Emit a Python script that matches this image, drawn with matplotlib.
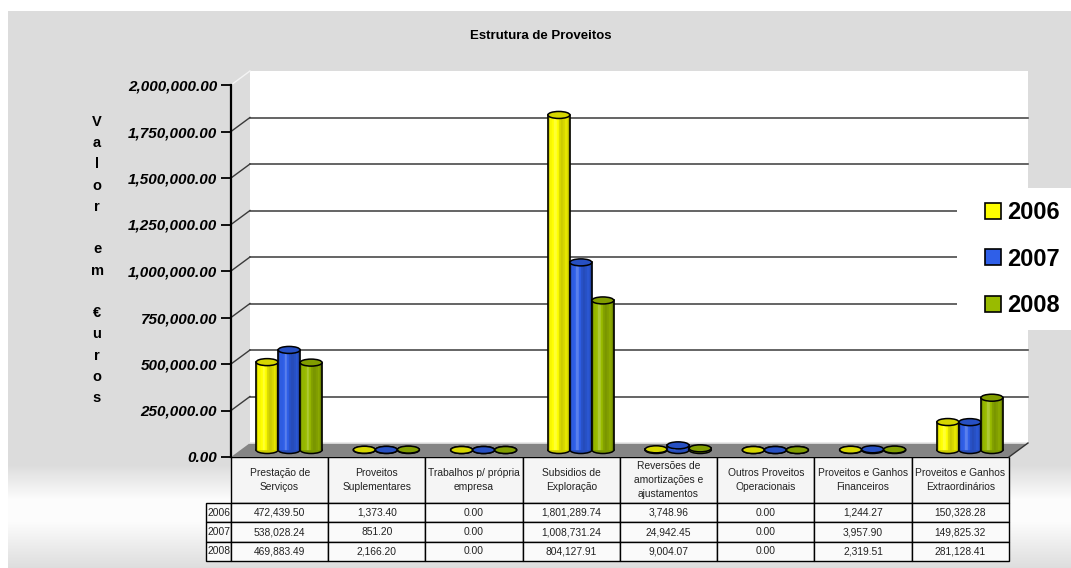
import numpy as np
import matplotlib
matplotlib.use('Agg')
import matplotlib.pyplot as plt
from matplotlib.patches import Rectangle, Ellipse, Polygon, Patch
from matplotlib.colors import to_rgb

plt.rcParams['font.family'] = ['Liberation Sans', 'DejaVu Sans']

# dados
categorias = ['Prestação de\nServiços', 'Proveitos\nSuplementares',
              'Trabalhos p/ própria\nempresa', 'Subsidios de\nExploração',
              'Reversões de\namortizações e\najustamentos',
              'Outros Proveitos\nOperacionais', 'Proveitos e Ganhos\nFinanceiros',
              'Proveitos e Ganhos\nExtraordinários']
anos = ['2006', '2007', '2008']
v2006 = [472439.50, 1373.40, 0.00, 1801289.74, 3748.96, 0.00, 1244.27, 150328.28]
v2007 = [538028.24, 851.20, 0.00, 1008731.24, 24942.45, 0.00, 3957.90, 149825.32]
v2008 = [469883.49, 2166.20, 0.00, 804127.91, 9004.07, 0.00, 2319.51, 281128.41]
series = [v2006, v2007, v2008]
cores = ['#FFFF00', '#2F5FE8', '#99BB00']

W, H = 1071, 568
fig = plt.figure(figsize=(W / 100, H / 100), dpi=100, facecolor='white')

# fundo cinzento com degradê em baixo
bg = fig.add_axes([8 / W, 0, 1 - 8 / W, (H - 11) / H])
bg.set_axis_off()
yy = np.arange(11, H + 1)
tons = np.interp(yy, [11, 465, 500, 522, 568], [0.863, 0.863, 0.99, 0.99, 0.87])
bg.imshow(np.repeat(tons[:, None], 2, axis=1)[:, :, None].repeat(3, axis=2),
          aspect='auto', extent=[0, 1, 0, 1], interpolation='bilinear')

# eixo principal (plano da frente)
ax_l, ax_r, ax_t, ax_b = 231, 1009, 85, 457
ax = fig.add_axes([ax_l / W, (H - ax_b) / H, (ax_r - ax_l) / W, (ax_b - ax_t) / H])
ax.set_xlim(-0.5, 7.5)
ax.set_ylim(0, 2000000)
ax.patch.set_visible(False)
for s in ['top', 'right', 'bottom']:
    ax.spines[s].set_visible(False)
ax.spines['left'].set_linewidth(1.6)
ax.set_xticks([])
ax.set_yticks(np.arange(0, 2000001, 250000))
ax.set_yticklabels([f'{v:,.2f}' for v in np.arange(0, 2000001, 250000)])
ax.tick_params(axis='y', length=7, width=1.3, pad=3, labelsize=11)
for lab in ax.get_yticklabels():
    lab.set_fontweight('bold')
    lab.set_fontstyle('italic')

px_x = (ax_r - ax_l) / 8.0
px_y = (ax_b - ax_t) / 2000000.0
dx = 19 / px_x           # profundidade em unidades de dados
dy = 14 / px_y

# parede do fundo
ax.add_patch(Rectangle((-0.5 + dx, dy), 8, 2000000, facecolor='white',
                       edgecolor='none', zorder=0.5, clip_on=False))
for v in np.arange(250000, 2000000, 250000):
    ax.plot([-0.5 + dx, 7.5 + dx], [v + dy, v + dy], color='#3a3a3a', lw=1.1,
            zorder=1, clip_on=False)
    ax.plot([-0.5, -0.5 + dx], [v, v + dy], color='#3a3a3a', lw=1.0,
            zorder=1, clip_on=False)
ax.plot([-0.5, -0.5 + dx], [2000000, 2000000 + dy], color='#f4f4f4', lw=1.0,
        zorder=1, clip_on=False)

# chão
ax.add_patch(Polygon([(-0.5, 0), (7.5, 0), (7.5 + dx, dy), (-0.5 + dx, dy)],
                     closed=True, facecolor='#858585', edgecolor='none',
                     zorder=1.5, clip_on=False))
ax.plot([-0.5 + dx, 7.5 + dx], [dy, dy], color='#e6e6e6', lw=1.2, zorder=1.6, clip_on=False)
ax.plot([7.5, 7.5 + dx], [0, dy], color='#333333', lw=1.0, zorder=1.6, clip_on=False)


def tom(cor, f):
    c = np.array(to_rgb(cor))
    if f <= 1:
        return tuple(c * f)
    return tuple(c + (1 - c) * (f - 1))


larg = 22 / px_x
eh = 7 / px_y
perfil = [0.8, 0.97, 1.0, 1.2, 1.0, 0.86, 0.8, 0.84, 0.9, 0.72]


def cilindro(x, valor, cor, z):
    base = dy / 2
    n = len(perfil)
    sw = larg / n
    xs = x - larg / 2 + sw * (np.arange(n) + 0.5)
    cols = [tom(cor, f) for f in perfil]
    ax.add_patch(Ellipse((x, base), larg, eh, facecolor=tom(cor, 0.8),
                         edgecolor='black', lw=1.1, zorder=z, clip_on=False))
    if valor > 0:
        ax.bar(xs, valor, width=sw, bottom=base, color=cols, edgecolor=cols,
               linewidth=0.3, zorder=z + 0.01, clip_on=False)
        for xe in (x - larg / 2, x + larg / 2):
            ax.plot([xe, xe], [base, base + valor], color='black', lw=1.2,
                    zorder=z + 0.02, clip_on=False)
    ax.add_patch(Ellipse((x, base + valor), larg, eh, facecolor=tom(cor, 0.84),
                         edgecolor='black', lw=1.1, zorder=z + 0.03, clip_on=False))


for i in range(len(categorias)):
    for k, (vals, cor) in enumerate(zip(series, cores)):
        cilindro(i + dx / 2 + (k - 1) * larg, vals[i], cor, 3 + k * 0.1)

# tabela de dados
texto = [[f'{v:,.2f}' for v in vals] for vals in series]
tab = ax.table(cellText=texto, rowLabels=anos, colLabels=categorias,
               cellLoc='center', rowLoc='left', colLoc='center',
               colWidths=[1 / 8] * 8, bbox=[0, -104 / 372, 1, 104 / 372])
tab.auto_set_font_size(False)
tab.set_fontsize(7.4)
for (r, c), cell in tab.get_celld().items():
    cell.set_edgecolor('black')
    cell.set_linewidth(1.0)
    cell.get_text().set_color('#222222')
    if r == 0:
        cell.set_height(46 / 372)
        cell.set_facecolor('#f5f5f5')
        cell.get_text().set_linespacing(1.45)
    else:
        cell.set_height(19.33 / 372)
        cell.set_facecolor('#fafafa')
    if c == -1:
        cell.set_width(33 / 778)
        cell.PAD = 0.04

# título e rótulo vertical
fig.text(541 / W, 1 - 36 / H, 'Estrutura de Proveitos', ha='center', va='center',
         fontsize=9.5, fontweight='bold')
fig.text(97 / W, 1 - 260 / H, 'V\na\nl\no\nr\n\ne\nm\n\n€\nu\nr\no\ns', ha='center',
         va='center', fontsize=10.5, fontweight='bold', linespacing=1.66)

# legenda
fig.add_artist(Rectangle((957 / W, (H - 330) / H), (W - 957) / W, 142 / H,
                         transform=fig.transFigure, facecolor='white',
                         edgecolor='none', zorder=1))
handles = [Patch(facecolor=c, edgecolor='black', linewidth=1.2) for c in cores]
leg = fig.legend(handles, anos, loc='center left', bbox_to_anchor=(985 / W, 1 - 259 / H),
                 frameon=False, prop={'weight': 'bold', 'size': 17},
                 handlelength=0.68, handleheight=0.68, handletextpad=0.25,
                 labelspacing=1.0, borderpad=0, borderaxespad=0)
leg.set_zorder(2)

fig.savefig('out.png', dpi=100, facecolor='white')
